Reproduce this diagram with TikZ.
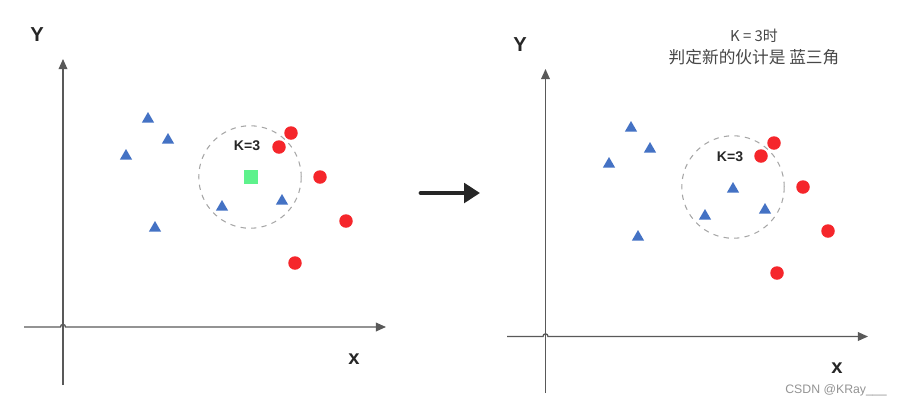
\documentclass[tikz,border=0pt]{standalone}
\usepackage{fontspec}
\setmainfont{Liberation Sans}
\newfontfamily\cjk{Noto Sans CJK SC}
\usetikzlibrary{arrows.meta, shapes.geometric}

\definecolor{triBlue}{HTML}{4472C4}
\definecolor{dotRed}{HTML}{F5262B}
\definecolor{newGreen}{HTML}{5EF28C}
\definecolor{axisGray}{HTML}{595959}
\definecolor{ringGray}{HTML}{A6A6A6}
\definecolor{textDark}{HTML}{262626}

\begin{document}
\begin{tikzpicture}[
        x=0.02cm, y=-0.02cm,
        blueTri/.style={
            regular polygon,
            regular polygon sides=3,
            fill=triBlue,
            inner sep=0pt,
            minimum size=0.28cm
        },
        redDot/.style={
            circle,
            fill=dotRed,
            inner sep=0pt,
            minimum size=0.27cm
        },
        newPoint/.style={
            rectangle,
            fill=newGreen,
            inner sep=0pt,
            minimum size=0.27cm
        },
        neighbourRing/.style={
            circle,
            draw=ringGray,
            dashed,
            line width=0.6pt,
            inner sep=0pt,
            minimum size=2.05cm
        },
        axisLine/.style={
            -{Triangle[length=5.8pt, width=5pt]},
            line width=0.75pt,
            draw=axisGray
        },
        axisName/.style={
            font=\bfseries\fontsize{11.5}{13}\selectfont,
            text=textDark
        },
        kLabel/.style={
            font=\bfseries\fontsize{8}{10}\selectfont,
            text=textDark
        }
    ]

        \useasboundingbox (0,0) rectangle (900,407);

        % Left plot: axes
        \coordinate (yBaseL) at (63,385);
        \coordinate (yTipL) at (63,59);
        \coordinate (xBaseL) at (24,327);
        \coordinate (xTipL) at (386,327);
        \draw[axisLine] (yBaseL) -- (yTipL);
        \draw[axisLine] (xBaseL) -- (60.5,327)
            .. controls (60.5,323.5) and (65.5,323.5) .. (65.5,327)
            -- (xTipL);
        \node[axisName] (yNameL) at (37,35) {Y};
        \node[axisName] (xNameL) at (354,359) {x};

        % Left plot: samples
        \foreach \px/\py [count=\i] in {148/119, 168/140, 126/156, 155/228, 222/207, 282/201}
        {
            \node[blueTri] (triL\i) at (\px,\py) {};
        }
        \foreach \px/\py [count=\i] in {291/133, 279/147, 320/177, 346/221, 295/263}
        {
            \node[redDot] (dotL\i) at (\px,\py) {};
        }
        \node[newPoint] (newL) at (251,177) {};
        \node[neighbourRing] (ringL) at (250,177) {};
        \node[kLabel] (kL) at (247,146) {K=3};

        % Transition arrow
        \coordinate (arrowFrom) at (421,193);
        \coordinate (arrowTo) at (480,193);
        \draw[
            -{Triangle[length=9pt, width=11pt]},
            line width=2.8pt,
            line cap=round,
            draw=textDark
        ] (arrowFrom) -- (arrowTo);

        % Right plot: axes
        \coordinate (yBaseR) at (545.5,393);
        \coordinate (yTipR) at (545.5,69);
        \coordinate (xBaseR) at (507,336.5);
        \coordinate (xTipR) at (868,336.5);
        \draw[axisLine] (yBaseR) -- (yTipR);
        \draw[axisLine] (xBaseR) -- (543,336.5)
            .. controls (543,333) and (548,333) .. (548,336.5)
            -- (xTipR);
        \node[axisName] (yNameR) at (520,45) {Y};
        \node[axisName] (xNameR) at (837,368) {x};

        % Right plot: samples
        \foreach \px/\py [count=\i] in {631/128, 650/149, 609/164, 638/237, 705/216, 733/189, 765/210}
        {
            \node[blueTri] (triR\i) at (\px,\py) {};
        }
        \foreach \px/\py [count=\i] in {774/143, 761/156, 803/187, 828/231, 777/273}
        {
            \node[redDot] (dotR\i) at (\px,\py) {};
        }
        \node[neighbourRing] (ringR) at (733,187) {};
        \node[kLabel] (kR) at (730,157) {K=3};

        % Verdict
        \node[
            font=\cjk\fontsize{8.5}{10}\selectfont,
            text=textDark!85
        ] (verdictK) at (754,36) {K = 3时};
        \node[
            font=\cjk\fontsize{9.5}{11}\selectfont,
            text=textDark!85
        ] (verdictText) at (754,57) {判定新的伙计是 蓝三角};

        % Watermark
        \node[
            font=\fontsize{7}{9}\selectfont,
            text=gray!85
        ] (mark) at (836,390) {CSDN @KRay\_\_\_};

    \end{tikzpicture}
\end{document}
